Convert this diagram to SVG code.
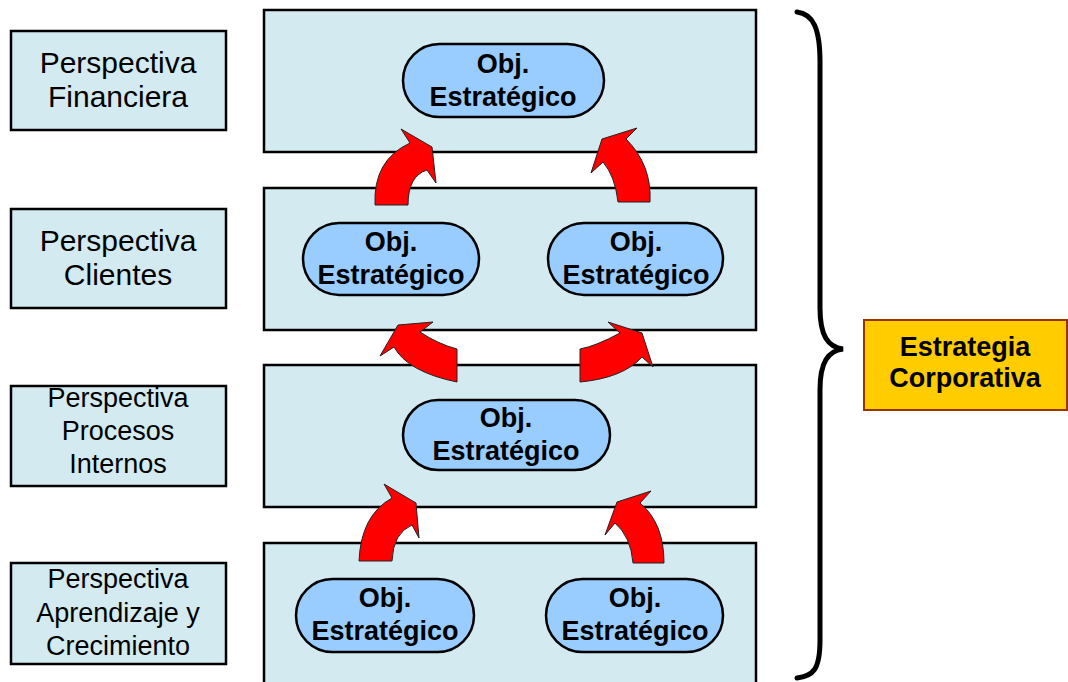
<svg xmlns="http://www.w3.org/2000/svg" width="1068" height="682" viewBox="0 0 1068 682">
  <style>
    .panel { fill: #D3EAF0; stroke: #000; stroke-width: 2.5; }
    .label { fill: #D3EAF0; stroke: #000; stroke-width: 2.5; }
    .obj { fill: #99CCFF; stroke: #000; stroke-width: 2.5; }
    .lt { font-family: "Liberation Sans", Arial, sans-serif; font-size: 27px; fill: #000; text-anchor: middle; }
    .ot { font-family: "Liberation Sans", Arial, sans-serif; font-size: 27px; font-weight: bold; fill: #000; text-anchor: middle; }
    .arrow { fill: #FF0000; stroke: #222; stroke-width: 1; stroke-linejoin: miter; }
    .brace { fill: none; stroke: #000; stroke-width: 5; stroke-linecap: round; }
  </style>

  <rect width="1068" height="682" fill="#fff"/>

  <!-- perspective bands -->
  <g id="band-financiera"><rect class="panel" x="264" y="10" width="492" height="142"/></g>
  <g id="band-clientes"><rect class="panel" x="264" y="188" width="492" height="142"/></g>
  <g id="band-procesos"><rect class="panel" x="264" y="365" width="492" height="142"/></g>
  <g id="band-aprendizaje"><rect class="panel" x="264" y="543" width="492" height="150"/></g>

  <!-- perspective labels -->
  <g id="label-financiera">
    <rect class="label" x="11" y="31" width="215" height="99"/>
    <text class="lt" x="118" y="73" style="font-size:30px">Perspectiva</text>
    <text class="lt" x="118" y="107" style="font-size:30px">Financiera</text>
  </g>
  <g id="label-clientes">
    <rect class="label" x="11" y="209" width="215" height="99"/>
    <text class="lt" x="118" y="251" style="font-size:30px">Perspectiva</text>
    <text class="lt" x="118" y="285" style="font-size:30px">Clientes</text>
  </g>
  <g id="label-procesos">
    <rect class="label" x="11" y="386" width="215" height="100"/>
    <text class="lt" x="118" y="407">Perspectiva</text>
    <text class="lt" x="118" y="440">Procesos</text>
    <text class="lt" x="118" y="473">Internos</text>
  </g>
  <g id="label-aprendizaje">
    <rect class="label" x="11" y="563" width="215" height="101"/>
    <text class="lt" x="118" y="588">Perspectiva</text>
    <text class="lt" x="118" y="622">Aprendizaje y</text>
    <text class="lt" x="118" y="655">Crecimiento</text>
  </g>

  <!-- strategic objectives -->
  <g id="obj-financiera">
    <rect class="obj" x="403" y="44" width="201" height="73" rx="36.5"/>
    <text class="ot" x="503" y="73">Obj.</text>
    <text class="ot" x="503" y="106">Estratégico</text>
  </g>
  <g id="obj-clientes-1">
    <rect class="obj" x="303" y="223" width="176" height="72" rx="36"/>
    <text class="ot" x="391" y="251">Obj.</text>
    <text class="ot" x="391" y="284">Estratégico</text>
  </g>
  <g id="obj-clientes-2">
    <rect class="obj" x="548" y="223" width="175" height="72" rx="36"/>
    <text class="ot" x="636" y="251">Obj.</text>
    <text class="ot" x="636" y="284">Estratégico</text>
  </g>
  <g id="obj-procesos">
    <rect class="obj" x="403" y="400" width="207" height="70" rx="35"/>
    <text class="ot" x="506" y="427">Obj.</text>
    <text class="ot" x="506" y="460">Estratégico</text>
  </g>
  <g id="obj-aprendizaje-1">
    <rect class="obj" x="296" y="579" width="178" height="73" rx="36.5"/>
    <text class="ot" x="385" y="607">Obj.</text>
    <text class="ot" x="385" y="640">Estratégico</text>
  </g>
  <g id="obj-aprendizaje-2">
    <rect class="obj" x="546" y="579" width="177" height="73" rx="36.5"/>
    <text class="ot" x="635" y="607">Obj.</text>
    <text class="ot" x="635" y="640">Estratégico</text>
  </g>

  <!-- curved cause-effect arrows -->
  <g id="connectors">
    <path class="arrow" d="M375,205 Q373,160 410,143 L401,129 L432,147 L436,183 L427,170 Q408,176 408,205 Z"/>
    <path class="arrow" d="M650,202 Q652,165 626,139 L637,128 L602,139 L591,173 L603,162 Q615,176 618,202 Z"/>
    <path class="arrow" d="M457,382 Q408,372 394,347 L380,356 L398,325 L433,322 L420,332 Q438,344 457,349 Z"/>
    <path class="arrow" d="M580,382 Q623,378 642,357 L653,367 L642,333 L608,322 L620,333 Q596,346 580,349 Z"/>
    <path class="arrow" d="M359,561 Q361,515 392,498 L384,484 L416,503 L419,538 L412,525 Q393,533 392,561 Z"/>
    <path class="arrow" d="M664,563 Q664,523 640,503 L651,491 L617,502 L605,535 L615,523 Q631,537 633,563 Z"/>
  </g>

  <!-- brace grouping all perspectives -->
  <g id="brace">
    <path class="brace" d="M797,12 C813,14 820,28 820,62 L820,308 C820,336 828,347 843,349 C828,351 820,362 820,390 L820,640 C820,670 813,676 797,678"/>
  </g>

  <g id="estrategia">
    <rect x="864" y="320" width="203" height="90" fill="#FFCC00" stroke="#993300" stroke-width="2"/>
    <text class="ot" x="965" y="356">Estrategia</text>
    <text class="ot" x="965" y="387">Corporativa</text>
  </g>
</svg>
